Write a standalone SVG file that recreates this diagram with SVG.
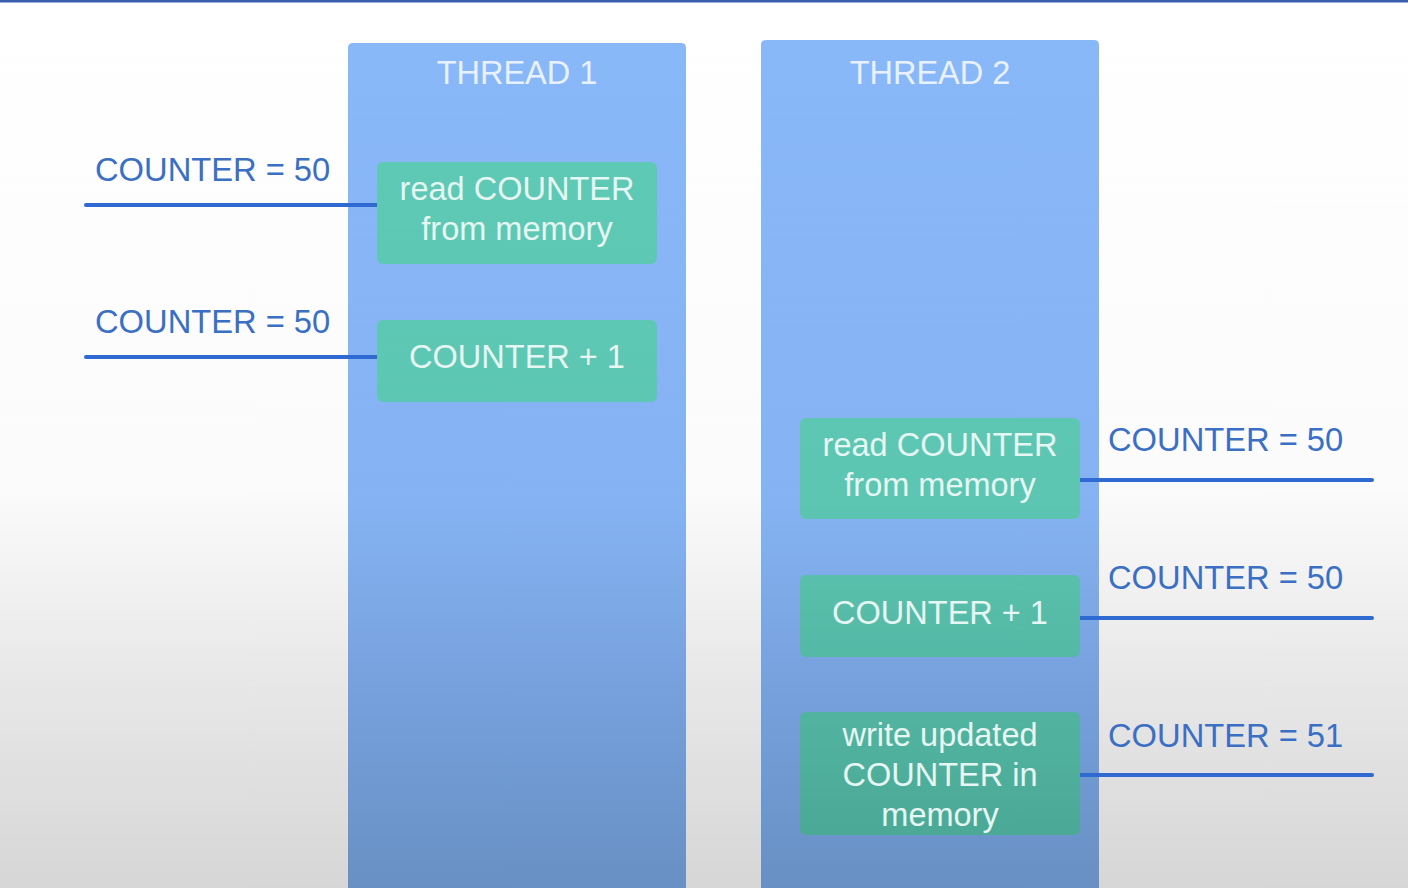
<svg xmlns="http://www.w3.org/2000/svg" width="1408" height="888" viewBox="0 0 1408 888">
<defs>
<linearGradient id="bg" x1="0" y1="0" x2="0" y2="1">
<stop offset="0" stop-color="#ffffff"/>
<stop offset="0.55" stop-color="#fbfbfb"/>
<stop offset="0.75" stop-color="#e9e9e9"/>
<stop offset="1" stop-color="#d6d6d6"/>
</linearGradient>
<linearGradient id="col" gradientUnits="userSpaceOnUse" x1="0" y1="40" x2="0" y2="888">
<stop offset="0" stop-color="#89b8f8"/>
<stop offset="0.55" stop-color="#85b2f2"/>
<stop offset="0.75" stop-color="#77a2de"/>
<stop offset="1" stop-color="#6890c4"/>
</linearGradient>
<linearGradient id="box" gradientUnits="userSpaceOnUse" x1="0" y1="150" x2="0" y2="850">
<stop offset="0" stop-color="#5ec9b4"/>
<stop offset="0.5" stop-color="#5cc6b2"/>
<stop offset="1" stop-color="#4aa895"/>
</linearGradient>
<style>
.col{fill:url(#col)}
.box{fill:url(#box)}
.title{font-family:"Liberation Sans",Arial,sans-serif;font-size:32.5px;fill:#e8f1ff;text-anchor:middle}
.bt{font-family:"Liberation Sans",Arial,sans-serif;font-size:32.5px;fill:#e6f6f2;text-anchor:middle}
.lbl{font-family:"Liberation Sans",Arial,sans-serif;font-size:32.7px;fill:#3a6fc4}
.conn{stroke:#2e6ad2;stroke-width:4;stroke-linecap:round;fill:none}
</style>
</defs>
<rect x="0" y="0" width="1408" height="888" fill="url(#bg)"/>
<rect x="0" y="0" width="1408" height="2.5" fill="#3a5fb0"/>

<g id="thread1">
<path class="col" d="M348,48 Q348,43 353,43 L681,43 Q686,43 686,48 L686,888 L348,888 Z"/>
<text class="title" x="517" y="84">THREAD 1</text>
</g>
<g id="thread2">
<path class="col" d="M761,45 Q761,40 766,40 L1094,40 Q1099,40 1099,45 L1099,888 L761,888 Z"/>
<text class="title" x="930" y="84">THREAD 2</text>
</g>

<g id="connectors">
<line class="conn" x1="86" y1="205" x2="377" y2="205"/>
<line class="conn" x1="86" y1="357" x2="377" y2="357"/>
<line class="conn" x1="1080" y1="480" x2="1372" y2="480"/>
<line class="conn" x1="1080" y1="618" x2="1372" y2="618"/>
<line class="conn" x1="1080" y1="775" x2="1372" y2="775"/>
</g>

<g id="t1-read">
<rect class="box" x="377" y="162" width="280" height="102" rx="6"/>
<text class="bt" x="517" y="200">read COUNTER</text>
<text class="bt" x="517" y="240">from memory</text>
</g>
<g id="t1-inc">
<rect class="box" x="377" y="320" width="280" height="82" rx="6"/>
<text class="bt" x="517" y="368">COUNTER + 1</text>
</g>
<g id="t2-read">
<rect class="box" x="800" y="418" width="280" height="101" rx="6"/>
<text class="bt" x="940" y="456">read COUNTER</text>
<text class="bt" x="940" y="496">from memory</text>
</g>
<g id="t2-inc">
<rect class="box" x="800" y="575" width="280" height="82" rx="6"/>
<text class="bt" x="940" y="624">COUNTER + 1</text>
</g>
<g id="t2-write">
<rect class="box" x="800" y="712" width="280" height="123" rx="6"/>
<text class="bt" x="940" y="746">write updated</text>
<text class="bt" x="940" y="786">COUNTER in</text>
<text class="bt" x="940" y="826">memory</text>
</g>

<g id="labels">
<text class="lbl" x="95" y="181">COUNTER = 50</text>
<text class="lbl" x="95" y="333">COUNTER = 50</text>
<text class="lbl" x="1108" y="451">COUNTER = 50</text>
<text class="lbl" x="1108" y="589">COUNTER = 50</text>
<text class="lbl" x="1108" y="747">COUNTER = 51</text>
</g>
</svg>
